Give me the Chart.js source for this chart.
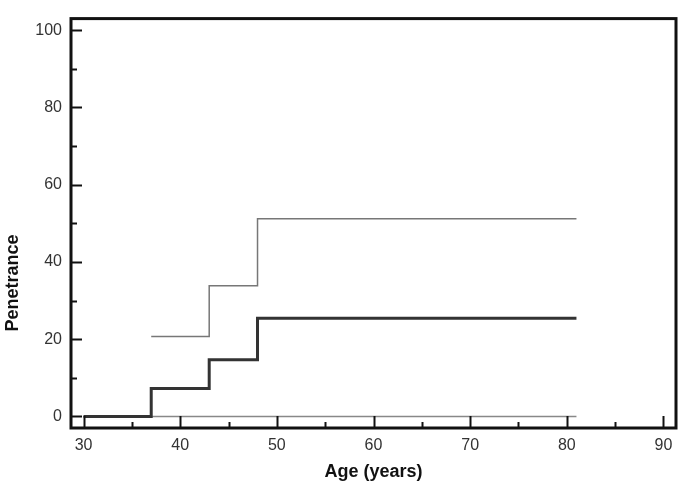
<!DOCTYPE html>
<html lang="en">

<head>
    <meta charset="UTF-8">
    <title>Penetrance</title>
    <script src="https://cdn.jsdelivr.net/npm/chart.js"></script>
    <style>
        body {
            margin: 0;
            background: #fff;
        }

        .wrapper {
            width: 685px;
            height: 483px;
        }
    </style>
</head>

<body>
    <div class="wrapper">
        <canvas id="penChart"></canvas>
    </div>

    <script>
        // step curve: x = age where the value starts, y = penetrance (%)
        const estAges = [30, 37, 43, 48, 81];
        const estValues = [0, 7.2, 14.7, 25.4, 25.4];

        const upperAges = [37, 43, 48, 81];
        const upperValues = [20.7, 33.8, 51.2, 51.2];

        const lowerAges = [30, 81];
        const lowerValues = [0, 0];

        const xTickStep = 10;
        const yTickStep = 20;
        const yTitle = 'Penetrance';

        function toPoints(xs, ys) {
            return xs.map((x, i) => ({ x: x, y: ys[i] }));
        }

        // frame + inward major/minor ticks + y title (sits low in the original)
        const frameTicks = {
            id: 'frameTicks',
            afterDraw(chart) {
                const { ctx, chartArea: a, scales } = chart;
                ctx.save();
                ctx.strokeStyle = '#111';
                ctx.lineWidth = 2;
                const xs = scales.x, ys = scales.y;
                for (let v = 30; v <= 90; v += 5) {
                    const px = Math.round(xs.getPixelForValue(v)) + 0.5;
                    const len = v % 10 === 0 ? 12 : 6;
                    ctx.beginPath();
                    ctx.moveTo(px, a.bottom);
                    ctx.lineTo(px, a.bottom - len);
                    ctx.stroke();
                }
                for (let v = 0; v <= 100; v += 10) {
                    const py = Math.round(ys.getPixelForValue(v)) + 0.5;
                    const len = v % 20 === 0 ? 11 : 6;
                    ctx.beginPath();
                    ctx.moveTo(a.left, py);
                    ctx.lineTo(a.left + len, py);
                    ctx.stroke();
                }
                ctx.lineWidth = 3;
                ctx.strokeRect(a.left, a.top, a.right - a.left, a.bottom - a.top);

                ctx.translate(13, 283);
                ctx.rotate(-Math.PI / 2);
                ctx.fillStyle = '#111';
                ctx.font = 'bold 18px "Liberation Sans", Arial';
                ctx.textAlign = 'center';
                ctx.textBaseline = 'middle';
                ctx.fillText(yTitle, 0, 0);
                ctx.restore();
            }
        };

        const ctx = document.getElementById('penChart').getContext('2d');

        new Chart(ctx, {
            type: 'scatter',
            data: {
                datasets: [{
                    label: 'Estimate',
                    data: toPoints(estAges, estValues),
                    showLine: true,
                    stepped: true,
                    borderColor: '#333',
                    borderWidth: 3,
                    pointRadius: 0,
                }, {
                    label: 'Upper',
                    data: toPoints(upperAges, upperValues),
                    showLine: true,
                    stepped: true,
                    borderColor: '#777',
                    borderWidth: 1.5,
                    pointRadius: 0,
                }, {
                    label: 'Lower',
                    data: toPoints(lowerAges, lowerValues),
                    showLine: true,
                    stepped: true,
                    borderColor: '#888',
                    borderWidth: 1.5,
                    pointRadius: 0,
                }]
            },
            options: {
                responsive: true,
                maintainAspectRatio: false,
                animation: false,
                layout: {
                    padding: { top: 8, right: 9, left: 0, bottom: 0 }
                },
                scales: {
                    x: {
                        type: 'linear',
                        min: 28.7,
                        max: 91.3,
                        afterFit(scale) { scale.height = 55; },
                        grid: { display: false, drawTicks: false },
                        border: { display: false },
                        ticks: {
                            stepSize: xTickStep,
                            includeBounds: false,
                            padding: 8,
                            color: '#333',
                            font: { family: 'Liberation Sans, Arial', size: 16 }
                        },
                        title: {
                            display: true,
                            text: 'Age (years)',
                            color: '#111',
                            padding: { top: 0, bottom: 0 },
                            font: { family: 'Liberation Sans, Arial', size: 18, weight: 'bold' }
                        }
                    },
                    y: {
                        type: 'linear',
                        min: -3,
                        max: 103,
                        afterFit(scale) { scale.width = 71; },
                        grid: { display: false, drawTicks: false },
                        border: { display: false },
                        ticks: {
                            stepSize: yTickStep,
                            includeBounds: false,
                            padding: 9,
                            color: '#333',
                            font: { family: 'Liberation Sans, Arial', size: 16 }
                        }
                    }
                },
                plugins: {
                    legend: { display: false },
                    tooltip: { enabled: false }
                }
            },
            plugins: [frameTicks]
        });
    </script>
</body>

</html>
